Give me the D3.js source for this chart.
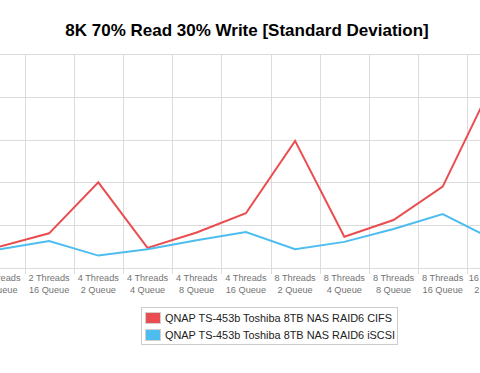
<!DOCTYPE html>
<html>
<head>
<meta charset="utf-8">
<script src="https://cdn.jsdelivr.net/npm/d3@7"></script>
<style>
    body { margin: 0; background: #fff; }
    svg { display: block; font-family: "Liberation Sans", Arial, Helvetica, sans-serif; }
</style>
</head>
<body>
<div id="chart"></div>
<script>
// categories (the view is cropped at both edges)
const threads = ["2 Threads", "2 Threads", "4 Threads", "4 Threads", "4 Threads", "4 Threads",
    "8 Threads", "8 Threads", "8 Threads", "8 Threads", "16 Threads"];
const queues = ["8 Queue", "16 Queue", "2 Queue", "4 Queue", "8 Queue", "16 Queue",
    "2 Queue", "4 Queue", "8 Queue", "16 Queue", "2 Queue"];

const cifs = [0.50, 0.81, 2.00, 0.47, 0.83, 1.28, 2.97, 0.73, 1.12, 1.90, 4.28];
const iscsi = [0.44, 0.63, 0.29, 0.44, 0.65, 0.84, 0.44, 0.61, 0.91, 1.26, 0.68];

const seriesNames = ["QNAP TS-453b Toshiba 8TB NAS RAID6 CIFS", "QNAP TS-453b Toshiba 8TB NAS RAID6 iSCSI"];
const seriesColors = ["#ea4d50", "#4dbdf0"];
const yTicks = [0, 1, 2, 3, 4, 5];

const w = 480, h = 373;
const plot = { top: 54, bottom: 268 };

const svg = d3.select("#chart").append("svg")
    .attr("width", w)
    .attr("height", h);

const keys = threads.map((t, i) => i);

// band step ~49px, first category centred at the left edge
const x = d3.scaleBand()
    .domain(keys)
    .range([-24.7, -24.7 + 49.2 * keys.length])
    .padding(0);

const y = d3.scaleLinear()
    .domain([0, 5])
    .range([plot.bottom, plot.top]);

// GRID
svg.append("g").selectAll("line.h")
    .data(yTicks)
    .enter().append("line")
    .attr("x1", 0).attr("x2", w)
    .attr("y1", d => Math.round(y(d)) + 0.5)
    .attr("y2", d => Math.round(y(d)) + 0.5)
    .style("stroke", "#dcdcdc")
    .style("stroke-width", 1);

svg.append("g").selectAll("line.v")
    .data(keys)
    .enter().append("line")
    .attr("x1", d => Math.round(x(d)) + 0.5)
    .attr("x2", d => Math.round(x(d)) + 0.5)
    .attr("y1", plot.top)
    .attr("y2", plot.bottom + 6)
    .style("stroke", "#dcdcdc")
    .style("stroke-width", 1);

// X LABELS
const xl = svg.append("g").selectAll("text")
    .data(keys)
    .enter().append("text")
    .attr("x", d => x(d) + x.bandwidth() / 2)
    .attr("text-anchor", "middle")
    .style("font-size", "9.2px")
    .style("fill", "#737373");
xl.append("tspan")
    .attr("x", d => x(d) + x.bandwidth() / 2)
    .attr("y", 281)
    .text(d => threads[d]);
xl.append("tspan")
    .attr("x", d => x(d) + x.bandwidth() / 2)
    .attr("y", 293)
    .text(d => queues[d]);

// LINES
const line = d3.line()
    .x((d, i) => x(i) + x.bandwidth() / 2)
    .y(d => y(d));

[cifs, iscsi].forEach((s, i) => {
    svg.append("path")
        .datum(s)
        .attr("d", line)
        .style("fill", "none")
        .style("stroke", seriesColors[i])
        .style("stroke-width", 2)
        .style("stroke-linejoin", "miter");
});

// TITLE
svg.append("text")
    .text("8K 70% Read 30% Write [Standard Deviation]")
    .attr("x", 247).attr("y", 35.5)
    .attr("text-anchor", "middle")
    .style("font-size", "17px")
    .style("font-weight", "bold")
    .style("fill", "#000");

// LEGEND
const legend = svg.append("g");
legend.append("rect")
    .attr("x", 141.5).attr("y", 307.5)
    .attr("width", 256).attr("height", 37)
    .style("fill", "#fff")
    .style("stroke", "#cccccc");

const items = legend.selectAll("g.item")
    .data(seriesNames)
    .enter().append("g")
    .attr("transform", (d, i) => "translate(145," + (312 + i * 17) + ")");
items.append("rect")
    .attr("x", 0.5).attr("y", 0.5)
    .attr("width", 15).attr("height", 11)
    .style("fill", (d, i) => seriesColors[i])
    .style("stroke", "#d0d0d0")
    .style("stroke-width", 1);
items.append("text")
    .text(d => d)
    .attr("x", 20).attr("y", 10)
    .style("font-size", "10.9px")
    .style("fill", "#222");
</script>
</body>
</html>
